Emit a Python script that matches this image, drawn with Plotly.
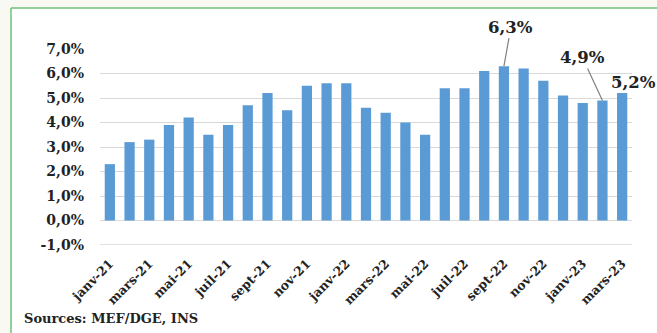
import plotly.graph_objects as go

months = ["janv", "févr", "mars", "avr", "mai", "juin", "juil", "août", "sept", "oct", "nov", "déc"]
categories = [f"{m}-{y}" for y in ["21", "22", "23"] for m in months][:27]
values = [2.3, 3.2, 3.3, 3.9, 4.2, 3.5, 3.9, 4.7, 5.2, 4.5, 5.5, 5.6,
          5.6, 4.6, 4.4, 4.0, 3.5, 5.4, 5.4, 6.1, 6.3, 6.2, 5.7, 5.1,
          4.8, 4.9, 5.2]
tick_labels = categories[::2]
y_ticks = [-1, 0, 1, 2, 3, 4, 5, 6, 7]
y_tick_text = [f"{v:.1f}%".replace(".", ",") for v in y_ticks]

W, H = 657, 333
L, R, T, B = 100, 25, 49, 88
pw, ph = W - L - R, H - T - B

def px(x):
    return (x - L) / pw

def py(y):
    return (H - B - y) / ph

font_fam = "DejaVu Serif"
fig = go.Figure()
fig.add_trace(go.Bar(x=categories, y=values, marker_color="#5b9bd5",
                     marker_line_width=0, width=0.52))

fig.update_layout(
    width=W, height=H,
    margin=dict(l=L, r=R, t=T, b=B, pad=0),
    paper_bgcolor="white", plot_bgcolor="white",
    showlegend=False,
    font=dict(family=font_fam, color="#222222"),
    xaxis=dict(type="category", tickmode="array", tickvals=tick_labels,
               ticktext=tick_labels, tickangle=-45, showgrid=False,
               tickfont=dict(family=font_fam, size=12.5, weight="bold", color="#222"),
               showline=False, ticks="", ticklabelstandoff=8, range=[-0.5, 26.5]),
    yaxis=dict(range=[-1, 7], tickmode="array", tickvals=y_ticks, ticktext=y_tick_text,
               showgrid=True, gridcolor="#d9d9d9", gridwidth=1, zeroline=False,
               tickfont=dict(family=font_fam, size=14, weight="bold", color="#222"),
               ticks="", ticklen=0, showline=False, ticklabelstandoff=15),
)

ann_font = dict(family=font_fam, size=16.5, weight="bold", color="#222")
fig.add_annotation(x="sept-22", y=6.3, text="6,3%", showarrow=True, arrowhead=0,
                   arrowwidth=1.2, arrowcolor="#808080", ax=7, ay=-39,
                   font=ann_font, standoff=0)
fig.add_annotation(x="févr-23", y=4.9, text="4,9%", showarrow=True, arrowhead=0,
                   arrowwidth=1.2, arrowcolor="#808080", ax=-20, ay=-43,
                   font=ann_font, standoff=0)
fig.add_annotation(x="mars-23", y=5.2, text="5,2%", showarrow=False,
                   xshift=11, yshift=11, yanchor="middle", font=ann_font)

fig.add_annotation(xref="paper", yref="paper", x=px(22), y=py(318), xanchor="left",
                   yanchor="middle", text="Sources: MEF/DGE, INS", showarrow=False,
                   font=dict(family=font_fam, size=13, weight="bold", color="#222"))

# -1% baseline line
fig.add_shape(type="line", xref="paper", yref="y", x0=0, x1=1, y0=-1, y1=-1,
              line=dict(color="#bfbfbf", width=1.2), layer="below")

# outer cream strips and green frame
cream = "#f9f9f3"
fig.add_shape(type="rect", xref="paper", yref="paper", x0=px(0), x1=px(W), y0=py(8), y1=py(0),
              fillcolor=cream, line_width=0, layer="below")
fig.add_shape(type="rect", xref="paper", yref="paper", x0=px(0), x1=px(11), y0=py(H), y1=py(8),
              fillcolor=cream, line_width=0, layer="below")
fig.add_shape(type="line", xref="paper", yref="paper", x0=px(11), x1=px(W), y0=py(8), y1=py(8),
              line=dict(color="#6cc27a", width=1.5))
fig.add_shape(type="line", xref="paper", yref="paper", x0=px(11), x1=px(11), y0=py(8), y1=py(H),
              line=dict(color="#6cc27a", width=1.5))

fig.write_html("out.html")
